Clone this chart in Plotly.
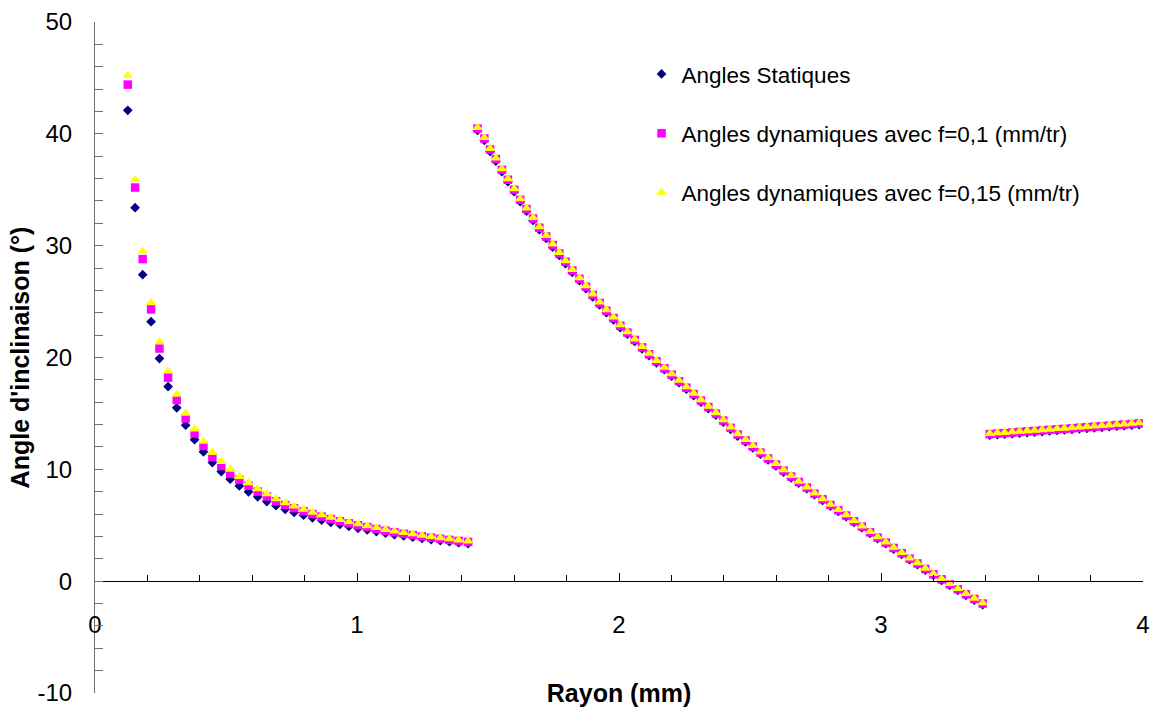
import plotly.graph_objects as go

# Rayon (mm)
rayon = [
    0.125, 0.153, 0.182, 0.214, 0.246, 0.279, 0.312, 0.346, 0.380, 0.414,
    0.448, 0.482, 0.516, 0.551, 0.586, 0.621, 0.656, 0.691, 0.726, 0.760,
    0.796, 0.830, 0.865, 0.900, 0.935, 0.969, 1.004, 1.039, 1.074, 1.109,
    1.143, 1.178, 1.213, 1.248, 1.283, 1.318, 1.353, 1.388, 1.424,
    1.460, 1.486, 1.508, 1.530, 1.553, 1.576, 1.600, 1.623, 1.647, 1.672,
    1.696, 1.722, 1.747, 1.772, 1.796, 1.822, 1.849, 1.874, 1.900, 1.926,
    1.952, 1.979, 2.005, 2.032, 2.060, 2.088, 2.115, 2.143, 2.173, 2.201,
    2.229, 2.257, 2.285, 2.313, 2.341, 2.370, 2.398, 2.426, 2.453, 2.483,
    2.511, 2.540, 2.569, 2.599, 2.628, 2.657, 2.686, 2.717, 2.746, 2.777,
    2.807, 2.837, 2.867, 2.897, 2.927, 2.958, 2.987, 3.018, 3.048, 3.079,
    3.109, 3.139, 3.169, 3.200, 3.231, 3.262, 3.293, 3.324, 3.356, 3.388,
    3.415, 3.444, 3.472, 3.501, 3.529, 3.558, 3.586, 3.615, 3.643, 3.672,
    3.700, 3.729, 3.757, 3.786, 3.814, 3.843, 3.871, 3.900, 3.928, 3.957,
    3.985,
]

# Angles Statiques (deg)
angles_statiques = [
    42.10, 33.40, 27.40, 23.20, 19.90, 17.40, 15.50, 13.95, 12.65, 11.57,
    10.60, 9.80, 9.12, 8.52, 7.99, 7.54, 7.12, 6.75, 6.42, 6.15,
    5.90, 5.66, 5.45, 5.25, 5.07, 4.89, 4.73, 4.58, 4.43, 4.29,
    4.16, 4.04, 3.93, 3.82, 3.72, 3.62, 3.53, 3.44, 3.36,
    40.30, 39.41, 38.43, 37.57, 36.61, 35.72, 34.83, 33.93, 33.10, 32.26,
    31.43, 30.65, 29.88, 29.13, 28.39, 27.61, 26.87, 26.16, 25.42, 24.70,
    24.01, 23.36, 22.67, 22.10, 21.44, 20.78, 20.16, 19.53, 18.91, 18.33,
    17.75, 17.17, 16.60, 16.02, 15.44, 14.85, 14.23, 13.58, 12.98, 12.45,
    11.91, 11.37, 10.84, 10.30, 9.76, 9.23, 8.77, 8.27, 7.73, 7.22,
    6.71, 6.24, 5.77, 5.26, 4.78, 4.27, 3.80, 3.35, 2.87, 2.40,
    1.92, 1.48, 0.99, 0.52, 0.07, -0.37, -0.82, -1.27, -1.69, -2.10,
    13.05, 13.10, 13.14, 13.19, 13.24, 13.29, 13.33, 13.38, 13.43, 13.48,
    13.52, 13.57, 13.62, 13.67, 13.71, 13.76, 13.81, 13.86, 13.90, 13.95,
    14.00,
]

# Angles dynamiques avec f=0,1 (mm/tr)
angles_dyn_f010 = [
    44.40, 35.20, 28.80, 24.30, 20.80, 18.20, 16.20, 14.55, 13.20, 12.10,
    11.10, 10.30, 9.60, 9.07, 8.53, 8.01, 7.57, 7.15, 6.81, 6.52,
    6.25, 6.00, 5.78, 5.55, 5.36, 5.17, 5.00, 4.83, 4.67, 4.51,
    4.37, 4.24, 4.12, 4.00, 3.89, 3.79, 3.69, 3.60, 3.51,
    40.47, 39.58, 38.60, 37.74, 36.78, 35.89, 35.00, 34.10, 33.27, 32.43,
    31.60, 30.82, 30.05, 29.30, 28.56, 27.78, 27.04, 26.33, 25.59, 24.87,
    24.18, 23.53, 22.84, 22.23, 21.57, 20.91, 20.29, 19.66, 19.04, 18.46,
    17.88, 17.30, 16.73, 16.15, 15.57, 14.98, 14.36, 13.71, 13.11, 12.58,
    12.04, 11.50, 10.97, 10.43, 9.89, 9.36, 8.87, 8.37, 7.83, 7.32,
    6.81, 6.34, 5.87, 5.36, 4.88, 4.37, 3.90, 3.45, 2.97, 2.50,
    2.02, 1.58, 1.09, 0.62, 0.17, -0.27, -0.72, -1.17, -1.59, -2.00,
    13.15, 13.20, 13.24, 13.29, 13.34, 13.39, 13.43, 13.48, 13.53, 13.58,
    13.62, 13.67, 13.72, 13.77, 13.81, 13.86, 13.91, 13.96, 14.00, 14.05,
    14.10,
]

# Angles dynamiques avec f=0,15 (mm/tr)
angles_dyn_f015 = [
    45.20, 35.90, 29.50, 24.90, 21.40, 18.80, 16.70, 15.00, 13.60, 12.50,
    11.50, 10.70, 10.00, 9.35, 8.80, 8.25, 7.80, 7.35, 7.00, 6.70,
    6.42, 6.15, 5.92, 5.70, 5.50, 5.30, 5.12, 4.95, 4.78, 4.62,
    4.48, 4.34, 4.22, 4.10, 3.98, 3.88, 3.78, 3.68, 3.58,
    40.55, 39.66, 38.68, 37.82, 36.86, 35.97, 35.08, 34.18, 33.35, 32.51,
    31.68, 30.90, 30.13, 29.38, 28.64, 27.86, 27.12, 26.41, 25.67, 24.95,
    24.26, 23.61, 22.92, 22.30, 21.64, 20.98, 20.36, 19.73, 19.11, 18.53,
    17.95, 17.37, 16.80, 16.22, 15.64, 15.05, 14.43, 13.78, 13.18, 12.65,
    12.11, 11.57, 11.04, 10.50, 9.96, 9.43, 8.92, 8.42, 7.88, 7.37,
    6.86, 6.39, 5.92, 5.41, 4.93, 4.42, 3.95, 3.50, 3.02, 2.55,
    2.07, 1.63, 1.14, 0.67, 0.22, -0.22, -0.67, -1.12, -1.54, -1.95,
    13.20, 13.25, 13.29, 13.34, 13.39, 13.44, 13.48, 13.53, 13.58, 13.63,
    13.67, 13.72, 13.77, 13.82, 13.86, 13.91, 13.96, 14.01, 14.05, 14.10,
    14.15,
]

series_names = [
    "Angles Statiques",
    "Angles dynamiques avec f=0,1 (mm/tr)",
    "Angles dynamiques avec f=0,15 (mm/tr)",
]

y_tick_values = [-10, 0, 10, 20, 30, 40, 50]
y_tick_labels = ["-10", "0", "10", "20", "30", "40", "50"]
x_tick_values = [0, 1, 2, 3, 4]
x_tick_labels = ["0", "1", "2", "3", "4"]

FONT = "Liberation Sans, Arial, Helvetica, sans-serif"

fig = go.Figure()
fig.add_trace(go.Scatter(
    x=rayon, y=angles_statiques, mode="markers", name=series_names[0],
    legendgroup="g1",
    marker=dict(symbol="diamond", size=7.5, color="#000080", line=dict(width=0)),
))
fig.add_trace(go.Scatter(
    x=rayon, y=angles_dyn_f010, mode="markers", name=series_names[1],
    legendgroup="g2",
    marker=dict(symbol="square", size=8.5, color="#FF00FF", line=dict(width=0)),
))
fig.add_trace(go.Scatter(
    x=rayon, y=angles_dyn_f015, mode="markers", name=series_names[2],
    legendgroup="g3",
    marker=dict(symbol="triangle-up", size=9.5, color="#FFFF00", line=dict(width=0)),
))

fig.update_layout(
    width=1154, height=708, autosize=False,
    margin=dict(l=95, r=11, t=22, b=15, autoexpand=False),
    paper_bgcolor="white", plot_bgcolor="white",
    font=dict(family=FONT, color="black"),
    showlegend=True,
    legend=dict(
        x=0.5215, y=0.954, xanchor="left", yanchor="top",
        font=dict(size=22.5, family=FONT, color="black"),
        tracegroupgap=27, traceorder="grouped",
        bgcolor="rgba(0,0,0,0)", borderwidth=0,
    ),
    xaxis=dict(
        range=[0, 4], anchor="free", position=1/6, automargin=False,
        showline=True, linecolor="black", linewidth=1,
        ticks="inside", ticklen=8, tickcolor="black", tickwidth=1,
        tickmode="array", tickvals=x_tick_values, ticktext=x_tick_labels,
        minor=dict(dtick=0.2, tick0=0, ticks="inside", ticklen=6, tickcolor="black"),
        showgrid=False, zeroline=False,
        tickfont=dict(size=24, family=FONT, color="black"),
        ticklabelstandoff=22,
        title=dict(text="<b>Rayon (mm)</b>", font=dict(size=25, family=FONT, color="black"),
                   standoff=47),
    ),
    yaxis=dict(
        range=[-10, 50], automargin=False,
        showline=True, linecolor="#707070", linewidth=1,
        ticks="inside", ticklen=8, tickcolor="#707070", tickwidth=1,
        tickmode="array", tickvals=y_tick_values, ticktext=y_tick_labels,
        minor=dict(dtick=2, tick0=0, ticks="inside", ticklen=8, tickcolor="#707070"),
        showgrid=False, zeroline=False,
        tickfont=dict(size=24, family=FONT, color="black"),
        ticklabelstandoff=17,
        title=dict(text="<b>Angle d'inclinaison (°)</b>", font=dict(size=25, family=FONT, color="black"),
                   standoff=0),
    ),
)

fig.write_html(
    "out.html",
    config={"displayModeBar": False, "responsive": False},
    post_script="document.body.style.margin='0';document.body.style.overflow='hidden';",
)
